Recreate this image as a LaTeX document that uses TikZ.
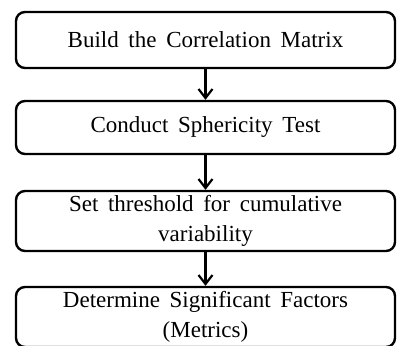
\documentclass[tikz,border=0pt]{standalone}
\usepackage{fontspec}
\setmainfont{Liberation Serif}
\usetikzlibrary{arrows.meta}
% box text: large serif with slightly wider word spaces
\newcommand\stepboxfont{\fontsize{23}{30}\selectfont\spaceskip=0.42em plus 0.1em\relax}
\begin{document}
\begin{tikzpicture}[x=1pt,y=1pt,
  stepbox/.style={draw=black, line width=2.4pt, rounded corners=9pt,
    minimum width=379pt, align=center, inner sep=0pt, font=\stepboxfont},
  flowarrow/.style={line width=2.2pt, -{Straight Barb[length=9pt,width=14pt,line width=2.2pt]}}]
  \useasboundingbox (0,0) rectangle (398,345);
  \clip (0,0) rectangle (398,345);
  \node[stepbox, minimum height=56pt] (b1) at (205.5,305) {Build the Correlation Matrix};
  \node[stepbox, minimum height=53pt] (b2) at (205.5,217.5) {Conduct Sphericity Test};
  \node[stepbox, minimum height=60pt] (b3) at (205.5,124) {Set threshold for cumulative\\variability};
  \node[stepbox, minimum height=60pt] (b4) at (205.5,28) {Determine Significant Factors\\(Metrics)};
  \draw[flowarrow] (b1.south) -- (b2.north);
  \draw[flowarrow] (b2.south) -- (b3.north);
  \draw[flowarrow] (b3.south) -- (b4.north);
\end{tikzpicture}
\end{document}
